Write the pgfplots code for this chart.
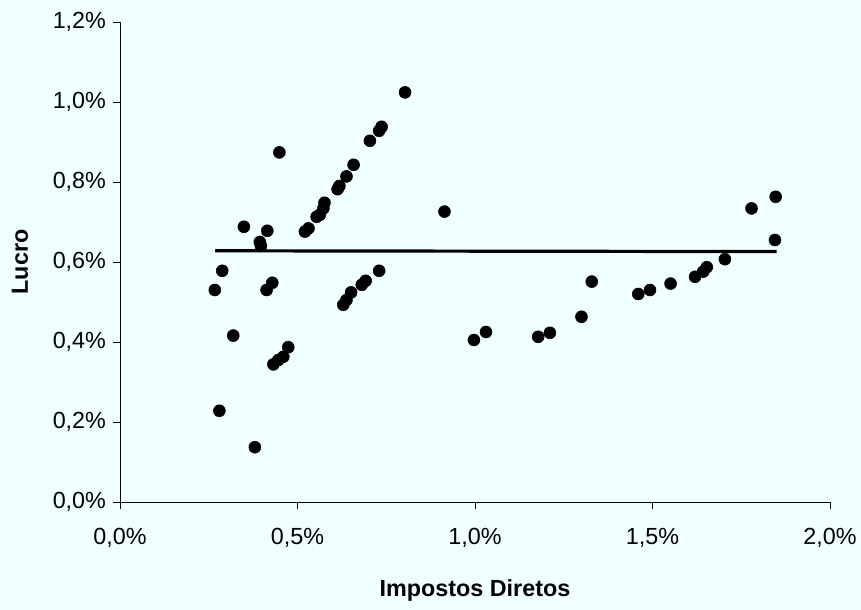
\documentclass[border=0pt]{standalone}
\usepackage{pgfplots}
\pgfplotsset{compat=1.18}
\usepackage{fontspec}
\setmainfont{Liberation Sans}
\definecolor{bg}{RGB}{240,255,255}
\begin{document}
\begin{tikzpicture}
\fill[bg] (-90pt,-81pt) rectangle (555.75pt,376.5pt);
\begin{axis}[
  scale only axis,
  width=532.5pt, height=360pt,
  xmin=0, xmax=2.0, ymin=0, ymax=1.2,
  axis lines=left,
  axis line style={-, line width=0.7pt},
  xtick={0,0.5,1.0,1.5,2.0},
  xticklabels={{0,0\%},{0,5\%},{1,0\%},{1,5\%},{2,0\%}},
  ytick={0,0.2,0.4,0.6,0.8,1.0,1.2},
  yticklabels={{0,0\%},{0,2\%},{0,4\%},{0,6\%},{0,8\%},{1,0\%},{1,2\%}},
  tick align=outside,
  major tick length=5pt,
  tick style={black, line width=0.6pt},
  ticklabel style={font=\fontsize{17.5}{20}\selectfont},
  yticklabel style={xshift=-2pt},
  xticklabel style={yshift=-11pt},
  every axis x label/.style={at={(axis description cs:0.5,0)}, yshift=-66pt, anchor=center, font=\fontsize{17.5}{20}\selectfont\bfseries},
  every axis y label/.style={at={(axis description cs:0,0.5)}, xshift=-75pt, rotate=90, anchor=center, font=\fontsize{17.5}{20}\selectfont\bfseries},
  xlabel={Impostos Diretos},
  ylabel={Lucro},
  clip=false,
]
\addplot[only marks, mark=*, mark size=4.5pt, black] table {
0.267 0.530
0.280 0.228
0.288 0.578
0.319 0.416
0.349 0.688
0.380 0.137
0.394 0.650
0.397 0.640
0.413 0.530
0.415 0.678
0.429 0.548
0.432 0.344
0.446 0.355
0.449 0.874
0.460 0.363
0.474 0.387
0.521 0.676
0.531 0.684
0.554 0.713
0.563 0.718
0.573 0.734
0.576 0.748
0.613 0.782
0.618 0.790
0.629 0.493
0.638 0.505
0.651 0.524
0.638 0.814
0.658 0.843
0.681 0.543
0.692 0.553
0.704 0.903
0.730 0.578
0.730 0.928
0.737 0.938
0.803 1.024
0.914 0.726
0.997 0.405
1.031 0.425
1.178 0.413
1.211 0.423
1.300 0.463
1.329 0.551
1.460 0.520
1.493 0.530
1.551 0.546
1.620 0.563
1.643 0.576
1.653 0.587
1.704 0.607
1.779 0.734
1.845 0.655
1.847 0.763
};
\addplot[black, line width=2.4pt] coordinates {(0.268,0.628) (1.85,0.626)};
\end{axis}
\end{tikzpicture}
\end{document}
